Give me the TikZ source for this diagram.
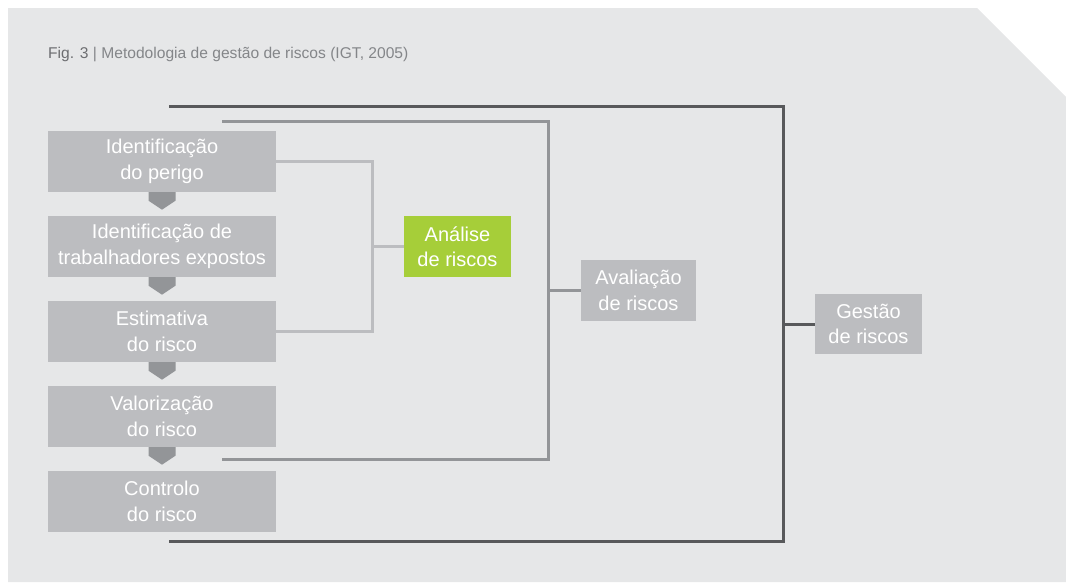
\documentclass[tikz,border=0pt]{standalone}
\usepackage{fontspec}
\setmainfont{Liberation Sans}
\usetikzlibrary{calc}

\definecolor{bggray}{HTML}{E6E7E8}
\definecolor{boxgray}{HTML}{BCBDC0}
\definecolor{tipgray}{HTML}{939598}
\definecolor{darkgray}{HTML}{58595B}
\definecolor{limegreen}{HTML}{A6CE39}
\definecolor{figgray}{HTML}{6D6E71}
\definecolor{titlegray}{HTML}{848689}

\tikzset{
  stepbox/.style={fill=boxgray, text=white, minimum width=228pt, minimum height=61pt,
    inner sep=0pt, align=center, font=\fontsize{20}{25.5}\selectfont},
  lightline/.style={draw=boxgray, line width=3pt},
  midline/.style={draw=tipgray, line width=3pt},
  darkline/.style={draw=darkgray, line width=3pt}
}

\begin{document}
\begin{tikzpicture}[x=1pt, y=-1pt]
\useasboundingbox (0,0) rectangle (1066,582);
\fill [bggray] (8,8) -- (977,8) -- (1066,97) -- (1066,582) -- (8,582) -- cycle;

\node (titulo) at (48,58.5) [anchor=base west, inner sep=0pt, text=titlegray,
  font=\fontsize{15.6}{18}\selectfont] {\textcolor{figgray}{Fig. 3} | Metodologia de gestão de riscos (IGT, 2005)};

% steps
\node (perigo) at (162,161.5) [stepbox] {Identificação\\do perigo};
\node (expostos) at (162,246.5) [stepbox] {Identificação de\\trabalhadores expostos};
\node (estimativa) at (162,331.5) [stepbox] {Estimativa\\do risco};
\node (valorizacao) at (162,416.5) [stepbox] {Valorização\\do risco};
\node (controlo) at (162,501.5) [stepbox] {Controlo\\do risco};

\node (analise) at (457.5,246.5) [stepbox, fill=limegreen, minimum width=107pt] {Análise\\de riscos};
\node (avaliacao) at (638.5,290.5) [stepbox, minimum width=115pt] {Avaliação\\de riscos};
\node (gestao) at (868.5,324) [stepbox, minimum width=107pt, minimum height=60pt] {Gestão\\de riscos};

% pointers between steps
\foreach \s in {perigo, expostos, estimativa, valorizacao}
  \fill [tipgray] ($(\s.south)+(-13.5,0)$) -- ($(\s.south)+(13.5,0)$) -- ($(\s.south)+(13.5,8.5)$)
    -- ($(\s.south)+(0,17.5)$) -- ($(\s.south)+(-13.5,8.5)$) -- cycle;

% brackets
\coordinate (ajoin) at (372,246.5);
\coordinate (avtop) at (222,121);
\coordinate (avbot) at (222,459);
\coordinate (avjoin) at (548,290.5);
\coordinate (gtop) at (169,106);
\coordinate (gbot) at (169,541);
\coordinate (gjoin) at (783,324);

\draw [lightline] (perigo.east) -| (ajoin) |- (estimativa.east);
\draw [lightline] (ajoin) -- (analise);
\draw [midline] (avtop) -| (avjoin) |- (avbot);
\draw [midline] (avjoin) -- (avaliacao);
\draw [darkline] (gtop) -| (gjoin) |- (gbot);
\draw [darkline] (gjoin) -- (gestao);
\end{tikzpicture}
\end{document}
